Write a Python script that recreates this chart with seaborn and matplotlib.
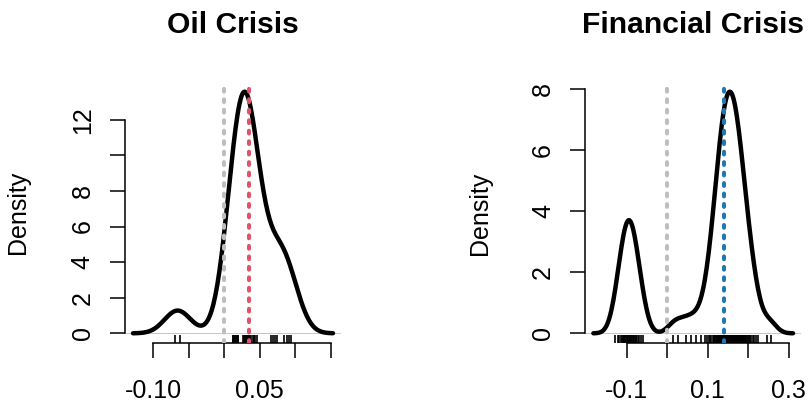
import numpy as np
import matplotlib
matplotlib.use("Agg")
import matplotlib.pyplot as plt
import seaborn as sns

# returns per episode
oil_returns = [
    -0.069, -0.062,
    0.012, 0.013, 0.014, 0.015, 0.016, 0.017, 0.018, 0.019, 0.020,
    0.027, 0.028, 0.029, 0.030, 0.031, 0.032, 0.033, 0.034, 0.035, 0.036,
    0.038, 0.040, 0.042, 0.044, 0.046,
    0.066, 0.069, 0.072, 0.075,
    0.085, 0.088, 0.091, 0.094,
]
fin_returns = [
    # left cluster
    -0.128, -0.122, -0.118, -0.115, -0.112, -0.110, -0.108, -0.106, -0.104,
    -0.102, -0.100, -0.098, -0.097, -0.095, -0.094, -0.092, -0.091, -0.089,
    -0.087, -0.085, -0.083, -0.081, -0.078, -0.076, -0.073, -0.070, -0.066,
    -0.060,
    # sparse middle
    0.014, 0.027, 0.045, 0.058, 0.070, 0.084,
    # main cluster
    0.093, 0.098, 0.104,
    0.106, 0.109, 0.112, 0.115,
    0.116, 0.118, 0.120, 0.122, 0.123, 0.125,
    0.126, 0.127, 0.128, 0.130, 0.131, 0.132, 0.133, 0.134,
    0.135, 0.136, 0.137, 0.138, 0.139, 0.140, 0.141, 0.142, 0.143, 0.144,
    0.145, 0.146, 0.147, 0.148, 0.149, 0.150, 0.151, 0.152, 0.153, 0.154, 0.155,
    0.155, 0.156, 0.157, 0.158, 0.159, 0.160, 0.161, 0.162, 0.163, 0.164, 0.165,
    0.166, 0.167, 0.168, 0.169, 0.170, 0.171, 0.172, 0.173, 0.174, 0.175,
    0.176, 0.177, 0.179, 0.180, 0.181, 0.182, 0.183, 0.185,
    0.186, 0.188, 0.190, 0.191, 0.193, 0.195,
    0.197, 0.199, 0.202, 0.205,
    0.207, 0.211, 0.214,
    0.218, 0.224,
    0.247, 0.256,
]

oil_bw = 0.018
fin_bw = 0.017
oil_cut = 3.3
fin_cut = 3.2
oil_mark = 0.035
fin_mark = 0.141

oil_xticks = [-0.10, -0.05, 0.00, 0.05, 0.10, 0.15]
oil_xlabels = ["-0.10", "", "", "0.05", "", ""]
oil_yticks = [0, 2, 4, 6, 8, 10, 12]
oil_ylabels = ["0", "2", "4", "6", "8", "", "12"]
fin_xticks = [-0.1, 0.0, 0.1, 0.2, 0.3]
fin_xlabels = ["-0.1", "", "0.1", "", "0.3"]
fin_yticks = [0, 2, 4, 6, 8]
fin_ylabels = ["0", "2", "4", "6", "8"]

sns.set_theme(style="white")
plt.rcParams["font.family"] = ["Liberation Sans", "DejaVu Sans"]
plt.rcParams["text.color"] = "black"
plt.rcParams["axes.labelcolor"] = "black"

W, H = 810, 407
fig = plt.figure(figsize=(W / 100, H / 100), dpi=100)


def px_axes(x0, x1, y0, y1):
    # pixel box (top-left origin) -> figure axes
    return fig.add_axes([x0 / W, 1 - y1 / H, (x1 - x0) / W, (y1 - y0) / H])


def draw_panel(ax, values, bw, cut, mark, mark_color, title, xticks, xlabels, yticks, ylabels):
    values = np.asarray(values)
    sns.kdeplot(x=values, bw_method=bw / values.std(ddof=1), cut=cut,
                color="black", lw=3.2, ax=ax, zorder=3)
    xs, ys = ax.lines[-1].get_data()
    ax.axhline(0, color="#BEBEBE", lw=0.6, zorder=1)
    sns.rugplot(x=values, height=0.03, color="black", linewidth=1.2, ax=ax, zorder=2)
    dash = (0, (0.7, 1.9))
    ax.axvline(0, color="#BEBEBE", lw=2.9, ls=dash, dash_capstyle="round", zorder=4)
    ax.axvline(mark, color=mark_color, lw=2.9, ls=dash, dash_capstyle="round", zorder=4)

    # R style ranges: 4% padding around the curve
    span = xs.max() - xs.min()
    ax.set_xlim(xs.min() - 0.04 * span, xs.max() + 0.04 * span)
    ax.set_ylim(-0.04 * ys.max(), 1.04 * ys.max())

    ax.set_xticks(xticks)
    ax.set_xticklabels(xlabels)
    ax.set_yticks(yticks)
    ax.set_yticklabels(ylabels, rotation=90, va="center")
    ax.set_xlabel("")
    ax.set_ylabel("")
    for side in ["top", "right"]:
        ax.spines[side].set_visible(False)
    ax.spines["left"].set_bounds(yticks[0], yticks[-1])
    ax.spines["bottom"].set_bounds(xticks[0], xticks[-1])
    for side in ["left", "bottom"]:
        ax.spines[side].set_color("black")
        ax.spines[side].set_linewidth(1.1)
    ax.tick_params(axis="both", direction="out", length=10.8, width=1.1,
                   color="black", labelcolor="black", labelsize=18)
    ax.tick_params(axis="x", pad=15, bottom=True)
    ax.tick_params(axis="y", pad=11, left=True)
    ax.set_title(title, fontsize=21.6, fontweight="bold", pad=35, color="black")


ax1 = px_axes(125, 341, 82, 343)
ax2 = px_axes(585.4, 801, 82, 343)

draw_panel(ax1, oil_returns, oil_bw, oil_cut, oil_mark, "#DF536B", "Oil Crisis",
           oil_xticks, oil_xlabels, oil_yticks, oil_ylabels)
draw_panel(ax2, fin_returns, fin_bw, fin_cut, fin_mark, "#1F78B4", "Financial Crisis",
           fin_xticks, fin_xlabels, fin_yticks, fin_ylabels)

fig.text(18 / W, 1 - 212 / H, "Density", rotation=90, ha="center", va="center", fontsize=18)
fig.text(480 / W, 1 - 213 / H, "Density", rotation=90, ha="center", va="center", fontsize=18)

fig.savefig("out.png", dpi=100)
